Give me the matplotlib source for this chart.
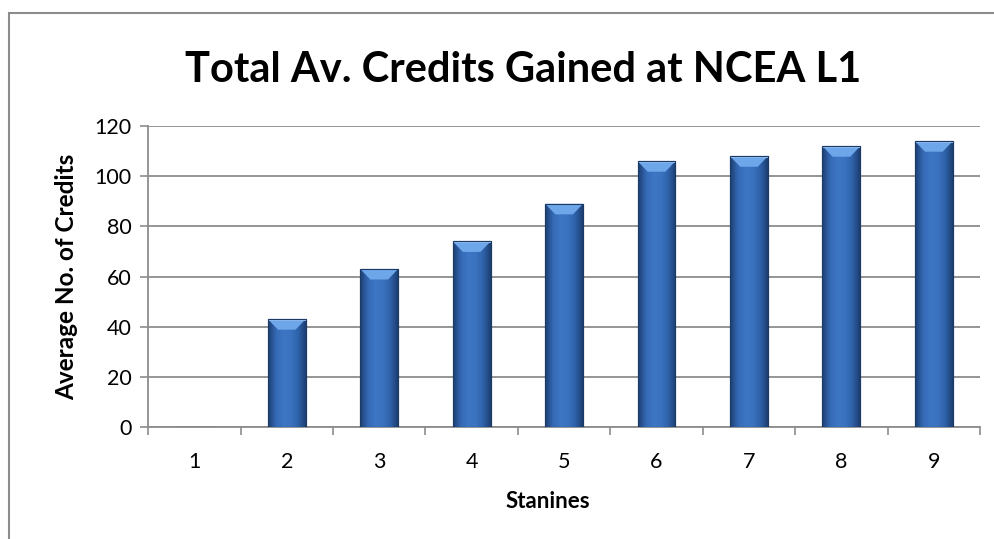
import numpy as np
import matplotlib.pyplot as plt
from matplotlib.colors import LinearSegmentedColormap
from matplotlib.patches import Polygon, Rectangle

stanines = ['1', '2', '3', '4', '5', '6', '7', '8', '9']
credits = [0, 43, 63, 74, 89, 106, 108, 112, 114]

plt.rcParams['font.family'] = ['Lato', 'DejaVu Sans']

fig = plt.figure(figsize=(9.94, 5.39), dpi=100)
ax = fig.add_axes([0.149, 0.208, 0.837, 0.558])

# outer chart frame (only the left and top edges show in the crop)
fig.patches.append(Rectangle((0.009, -0.1), 1.2, 1.076, transform=fig.transFigure,
                             fill=False, edgecolor='#8c8c8c', linewidth=1.5))

x = np.arange(len(stanines))
w = 0.41
bars = ax.bar(x, credits, width=w, color='#3a72c0', edgecolor='#1b3a66', linewidth=0.8, zorder=3)

# shaded fill, darker at the sides
cmap = LinearSegmentedColormap.from_list('bevel', ['#1d3f72', '#3468b3', '#3d76c4', '#3b73c0', '#2f62aa', '#1d3f72'])
grad = np.linspace(0, 1, 64).reshape(1, -1)
for b, v in zip(bars, credits):
    if v <= 0:
        continue
    x0, x1 = b.get_x(), b.get_x() + b.get_width()
    im = ax.imshow(grad, cmap=cmap, aspect='auto', extent=(x0, x1, 0, v), zorder=3.5)
    im.set_clip_path(b)
    d = 0.11
    h = 4.2
    top = Polygon([(x0, v), (x1, v), (x1 - d, v - h), (x0 + d, v - h)],
                  closed=True, facecolor='#6ea6ea', edgecolor='none', zorder=4)
    ax.add_patch(top)
    ax.add_patch(Rectangle((x0, v - 0.6), x1 - x0, 0.6, facecolor='#8fbdf2', edgecolor='none', zorder=4))
    ax.add_patch(Rectangle((x0, 0), x1 - x0, v, fill=False, edgecolor='#1b3a66', linewidth=0.8, zorder=4.5))

ax.set_xlim(-0.5, len(stanines) - 0.5)
ax.set_ylim(0, 120)
ax.set_yticks(range(0, 121, 20))
ax.set_xticks(x)
ax.set_xticklabels(stanines)
ax.set_xticks(np.arange(-0.5, len(stanines), 1), minor=True)
ax.tick_params(axis='x', which='major', length=0, pad=18, labelsize=15.5)
ax.tick_params(axis='x', which='minor', length=6, color='#8c8c8c', width=1.2, direction='out')
ax.tick_params(axis='y', length=6, color='#8c8c8c', width=1.2, labelsize=15.5, pad=6)

ax.grid(axis='y', color='#8c8c8c', linewidth=1.3, zorder=0)
ax.set_axisbelow(True)
for s in ['top', 'right']:
    ax.spines[s].set_visible(False)
for s in ['left', 'bottom']:
    ax.spines[s].set_color('#8c8c8c')
    ax.spines[s].set_linewidth(1.3)

fig.text(0.526, 0.87, 'Total Av. Credits Gained at NCEA L1', fontsize=30, fontweight='bold',
         ha='center', va='center')
ax.set_xlabel('Stanines', fontsize=16, fontweight='bold', labelpad=14)
ax.xaxis.label.set_x(0.481)
ax.set_ylabel('Average No. of Credits', fontsize=17.5, fontweight='bold', labelpad=12)
ax.yaxis.label.set_y(0.50)

fig.savefig('out.png', dpi=100)
